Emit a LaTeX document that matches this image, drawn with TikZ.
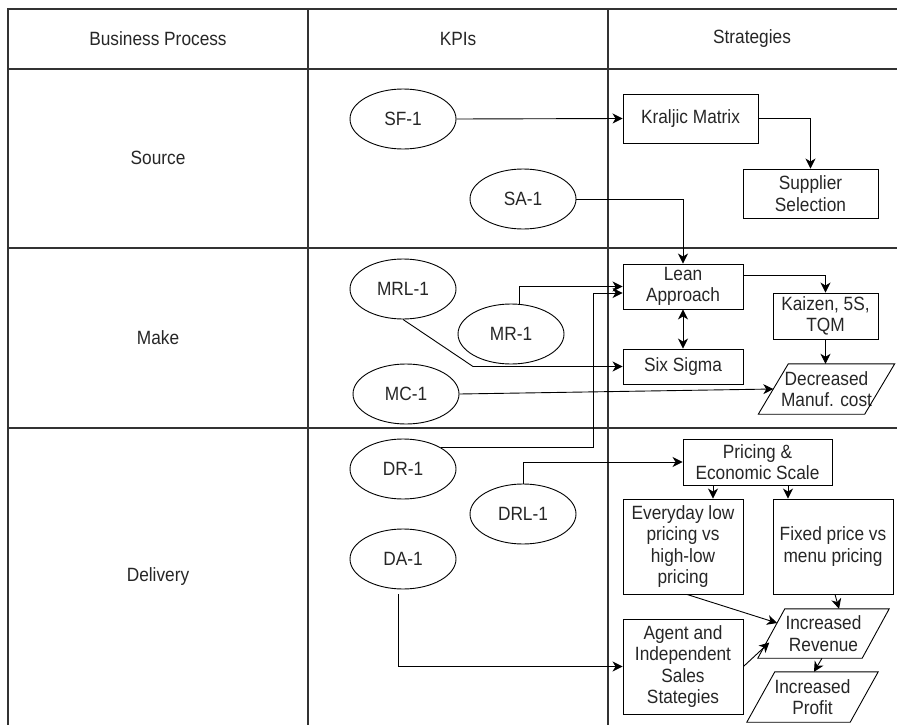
\documentclass[tikz,border=0pt]{standalone}
\usepackage{fontspec}
\setmainfont{Liberation Sans}[FakeStretch=0.9]
\usetikzlibrary{arrows.meta,shapes.geometric,calc}
\begin{document}
\begin{tikzpicture}[x=1pt,y=-1pt,
  every node/.style={font=\fontsize{19.2}{21.5}\selectfont, text=black!85, align=center, inner sep=0pt},
  kpi/.style={draw, ellipse, line width=0.9pt, minimum width=106pt, minimum height=60pt},
  box/.style={draw, rectangle, line width=0.9pt},
  para/.style={rectangle},
  ln/.style={line width=0.9pt},
  arr/.style={line width=0.9pt, -{Stealth[length=10pt,width=10pt,inset=3pt]}},
  darr/.style={line width=0.9pt, {Stealth[length=10pt,width=10pt,inset=3pt]}-{Stealth[length=10pt,width=10pt,inset=3pt]}},
  gridline/.style={line width=1.3pt, draw=black!80}]
\useasboundingbox (0,0) rectangle (897,725);

% table
\draw[gridline] (8,725) -- (8,9) -- (897,9);
\draw[gridline] (8,69) -- (897,69);
\draw[gridline] (8,248) -- (897,248);
\draw[gridline] (8,428) -- (897,428);
\draw[gridline] (308,9) -- (308,725);
\draw[gridline] (608,9) -- (608,725);

\node (hbp) at (158,39) {Business Process};
\node (hkpi) at (458,39) {KPIs};
\node (hstr) at (752,39) {Strategies};
\node (rsrc) at (158,158) {Source};
\node (rmake) at (158,338) {Make};
\node (rdel) at (158,577) {Delivery};

% KPIs
\node[kpi] (sf1) at (403,119) {SF-1};
\node[kpi] (sa1) at (523,199) {SA-1};
\node[kpi] (mrl1) at (403,289) {MRL-1};
\node[kpi] (mr1) at (511,334) {MR-1};
\node[kpi] (mc1) at (406,394) {MC-1};
\node[kpi] (dr1) at (403,469) {DR-1};
\node[kpi] (drl1) at (523,514) {DRL-1};
\node[kpi] (da1) at (403,559) {DA-1};

% strategies
\node[box, minimum width=135pt, minimum height=49pt] (kra) at (690.5,118.5) {Kraljic Matrix};
\node[box, minimum width=135pt, minimum height=49pt] (sup) at (810.5,193.5) {Supplier\\Selection};
\node[box, minimum width=120pt, minimum height=45pt] (lean) at (683,286.5) {Lean\\Approach};
\node[box, minimum width=120pt, minimum height=35pt] (six) at (683,366.5) {Six Sigma};
\node[box, minimum width=105pt, minimum height=46pt] (kai) at (825.5,316) {Kaizen, 5S,\\TQM};
\node[para, minimum width=106pt, minimum height=50pt] (dec) at (826.5,389) {Decreased\\Manuf. cost};
\draw[ln] ([xshift=-15pt]dec.south west) -- ([xshift=-15pt]dec.south east) -- ([xshift=15pt]dec.north east) -- ([xshift=15pt]dec.north west) -- cycle;

\node[box, minimum width=149pt, minimum height=46pt] (pri) at (757.5,462) {Pricing \&\\Economic Scale};
\node[box, minimum width=120pt, minimum height=95pt] (evd) at (683,546.5) {Everyday low\\pricing vs\\high-low\\pricing};
\node[box, minimum width=120pt, minimum height=95pt] (fix) at (833,546.5) {Fixed price vs\\menu pricing};
\node[box, minimum width=120pt, minimum height=95pt] (agt) at (683,666.5) {Agent and\\Independent\\Sales\\Stategies};
\node[para, minimum width=104pt, minimum height=49pt] (rev) at (823.5,633.5) {Increased\\Revenue};
\draw[ln] ([xshift=-13.5pt]rev.south west) -- ([xshift=-13.5pt]rev.south east) -- ([xshift=13.5pt]rev.north east) -- ([xshift=13.5pt]rev.north west) -- cycle;
\node[para, minimum width=103pt, minimum height=50pt] (pro) at (812.5,697) {Increased\\Profit};
\draw[ln] ([xshift=-14pt]pro.south west) -- ([xshift=-14pt]pro.south east) -- ([xshift=14pt]pro.north east) -- ([xshift=14pt]pro.north west) -- cycle;

% helper coordinates
\coordinate (drb) at (593,293);
\coordinate (mrlb) at (473,366.5);

% connectors
\draw[arr] (sf1.east) -- (kra.west);
\draw[arr] (kra.east) -| (sup.north);
\draw[arr] (sa1.east) -| (lean.north);
\draw[arr] ([xshift=8pt]mr1.north) |- (lean.west);
\draw[arr] (dr1.north east) -| (drb) -- ([shift={(0,6.5)}]lean.west);
\draw[arr] (mrl1.south) -- (mrlb) -- (six.west);
\draw[arr] (mc1.east) -- (dec.west);
\draw[darr] (lean.south) -- (six.north);
\draw[arr] ([shift={(0,-11.5)}]lean.east) -| (kai.north);
\draw[arr] (kai.south) -- (kai.south |- dec.north);
\draw[arr] (drl1.north) |- (pri.west);
\draw[arr] ([shift={(-5,5)}]da1.south) |- (agt.west);
\draw[arr] ([xshift=-44.5pt]pri.south) -- ([xshift=30pt]evd.north);
\draw[arr] ([xshift=30.5pt]pri.south) -- ([xshift=-45pt]fix.north);
\draw[arr] ([xshift=4pt]evd.south) -- ([shift={(5.8,-10.5)}]rev.west);
\draw[arr] ([xshift=2pt]fix.south) -- ([xshift=15.5pt]rev.north);
\draw[arr] (agt.east) -- ([shift={(-2,9)}]rev.west);
\draw[arr] ([xshift=-1.5pt]rev.south) -- ([xshift=1.5pt]pro.north);
\end{tikzpicture}
\end{document}
